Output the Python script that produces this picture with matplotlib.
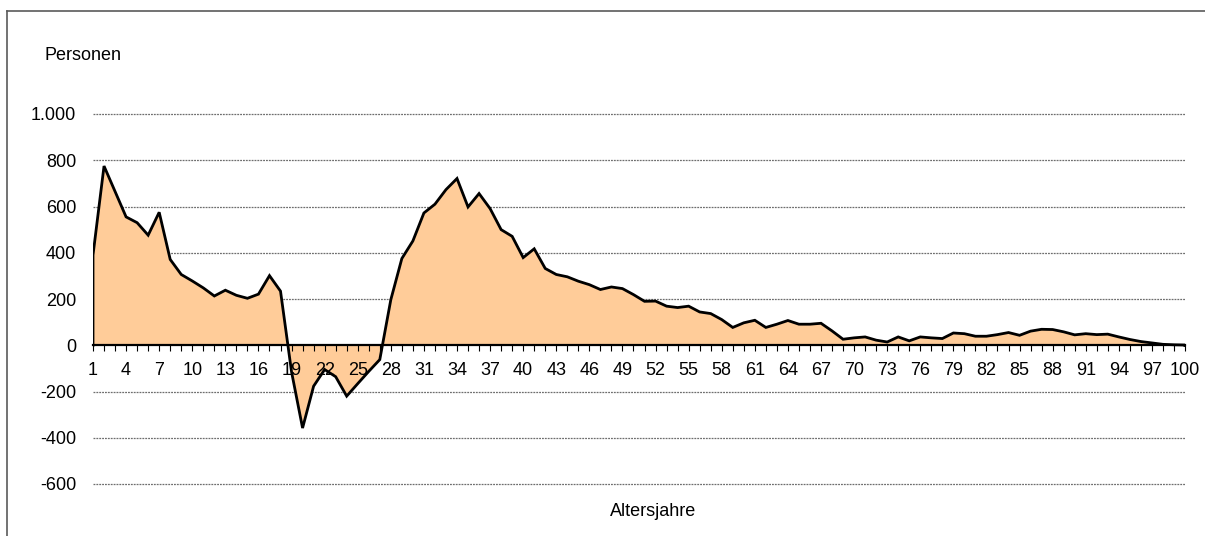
import matplotlib
matplotlib.use("Agg")
import matplotlib.pyplot as plt
from matplotlib.lines import Line2D

plt.rcParams['font.family'] = ['Liberation Sans', 'DejaVu Sans']

# Age in years
ages = list(range(1, 101))

# Net number of persons per age year
persons = [
    390, 775, 665, 555, 530, 476, 575, 371, 306, 278,
    248, 213, 238, 216, 203, 221, 301, 234, -115, -358,
    -177, -105, -136, -220, -166, -113, -62, 197, 375, 451,
    572, 610, 673, 721, 598, 656, 591, 500, 471, 379,
    417, 332, 306, 296, 277, 262, 241, 252, 245, 219,
    190, 191, 169, 163, 169, 144, 137, 111, 77, 97,
    108, 77, 91, 107, 91, 91, 95, 62, 26, 32,
    36, 22, 14, 36, 19, 36, 32, 29, 53, 50,
    39, 39, 46, 55, 43, 61, 69, 68, 58, 45,
    50, 46, 48, 36, 25, 16, 10, 4, 2, 1,
]

y_ticks = [-600, -400, -200, 0, 200, 400, 600, 800, 1000]
x_label_step = 3

W, H = 1205, 536
fig = plt.figure(figsize=(W / 100, H / 100), dpi=100)
ax = fig.add_axes([93 / W, 1 - 484 / H, (1185 - 93) / W, (484 - 114) / H])

fill_color = '#FFCC99'
ax.fill_between(ages, 0, persons, color=fill_color, linewidth=0, zorder=2)
ax.plot([ages[0]] + ages + [ages[-1]], [0] + persons + [0],
        color='black', linewidth=2.0, solid_joinstyle='miter', zorder=4)

ax.set_xlim(1, 100)
ax.set_ylim(-600, 1000)

# dotted horizontal gridlines
for v in y_ticks:
    if v != 0:
        ax.axhline(v, color='#6e6e6e', linewidth=0.9,
                   linestyle=(0, (1.5, 0.8)), zorder=1, clip_on=False)

for s in ['top', 'right', 'left']:
    ax.spines[s].set_visible(False)
ax.spines['bottom'].set_position(('data', 0))
ax.spines['bottom'].set_linewidth(1.6)
ax.spines['bottom'].set_zorder(3)
ax.xaxis.set_zorder(3.5)

ax.set_xticks(ages)
ax.set_xticklabels([str(a) if (a - 1) % x_label_step == 0 else '' for a in ages])
ax.tick_params(axis='x', direction='out', length=4, width=0.8, pad=8,
               labelsize=13, color='black')

ax.set_yticks(y_ticks)
ax.set_yticklabels([f"{v:,}".replace(',', '.') for v in y_ticks])
ax.tick_params(axis='y', length=0, pad=12, labelsize=13)

fig.text(45 / W, 1 - 55 / H, 'Personen', ha='left', va='center', fontsize=13)
fig.text(653 / W, 1 - 512 / H, 'Altersjahre', ha='center', va='center', fontsize=13)

# chart frame
fig.add_artist(Line2D([7 / W, 1], [1 - 11 / H, 1 - 11 / H], color='#5a5a5a',
                      linewidth=1.2, transform=fig.transFigure))
fig.add_artist(Line2D([7 / W, 7 / W], [0, 1 - 11 / H], color='#5a5a5a',
                      linewidth=1.2, transform=fig.transFigure))

fig.savefig('out.png', dpi=100, facecolor='white')
